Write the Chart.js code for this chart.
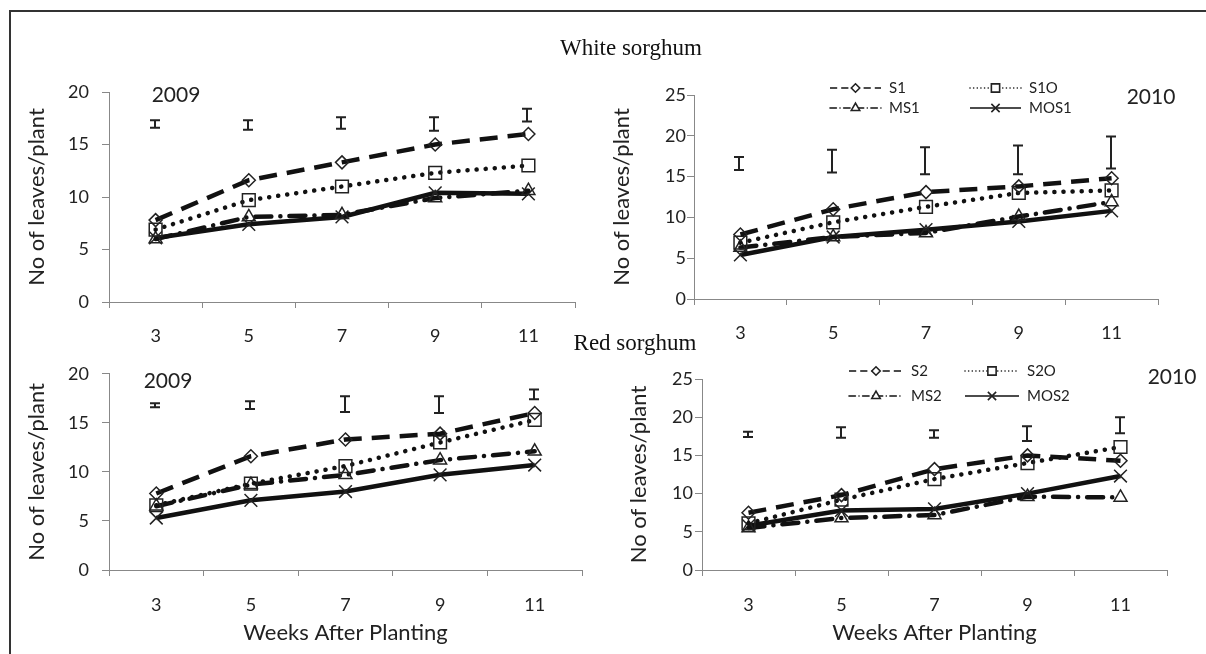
<!DOCTYPE html>
<html>
<head>
<meta charset="utf-8">
<script src="https://cdn.jsdelivr.net/npm/chart.js@4.4.1/dist/chart.umd.min.js"></script>
<style>
body { margin:0; background:#fff; }
#wrap { position:relative; width:1206px; height:654px; overflow:hidden; background:#fff; }
#frame { position:absolute; left:9px; top:10px; right:-5px; bottom:-5px; border-top:2px solid #333; border-left:2px solid #333; }
.box { position:absolute; }
.lbl { position:absolute; transform:translate(-50%,-50%); white-space:nowrap; color:#111; }
.head { font-family:"Liberation Serif", serif; font-size:23px; }
.year { font-family:Lato, sans-serif; font-size:21px; color:#222; }
</style>
</head>
<body>
<div id="wrap">
	<div id="frame"></div>
	<div class="box" style="left:10px;top:60px;"><canvas id="c_w09" width="590" height="290"></canvas></div>
	<div class="box" style="left:600px;top:60px;"><canvas id="c_w10" width="600" height="290"></canvas></div>
	<div class="box" style="left:10px;top:350px;"><canvas id="c_r09" width="590" height="304"></canvas></div>
	<div class="box" style="left:600px;top:350px;"><canvas id="c_r10" width="606" height="304"></canvas></div>
	<div class="lbl head" style="left:631px;top:48px;">White sorghum</div>
	<div class="lbl head" style="left:635px;top:343px;">Red sorghum</div>
	<div class="lbl year" style="left:176px;top:93px;">2009</div>
	<div class="lbl year" style="left:1151px;top:95px;">2010</div>
	<div class="lbl year" style="left:168px;top:379px;">2009</div>
	<div class="lbl year" style="left:1172px;top:375px;">2010</div>
</div>
<script>
var weeks = ["3", "5", "7", "9", "11"];
var whiteKeys = ["S1", "S1O", "MS1", "MOS1"];
var redKeys = ["S2", "S2O", "MS2", "MOS2"];

// white sorghum 2009
var w09S = [7.8, 11.6, 13.3, 15.0, 16.0];
var w09SO = [6.9, 9.7, 11.0, 12.3, 13.0];
var w09MS = [6.0, 8.1, 8.3, 9.9, 10.6];
var w09MOS = [6.1, 7.4, 8.1, 10.4, 10.3];
var w09Lo = [16.6, 16.4, 16.5, 16.3, 17.2];
var w09Hi = [17.3, 17.3, 17.6, 17.6, 18.4];

// white sorghum 2010
var w10S = [7.9, 11.0, 13.1, 13.8, 14.8];
var w10SO = [6.9, 9.4, 11.3, 13.0, 13.3];
var w10MS = [6.3, 7.6, 8.1, 10.1, 11.9];
var w10MOS = [5.4, 7.6, 8.5, 9.5, 10.8];
var w10Lo = [15.8, 15.5, 15.3, 15.3, 16.0];
var w10Hi = [17.4, 18.3, 18.6, 18.8, 19.9];

// red sorghum 2009
var r09S = [7.8, 11.6, 13.3, 13.9, 16.0];
var r09SO = [6.6, 8.8, 10.6, 13.0, 15.3];
var r09MS = [6.5, 8.7, 9.7, 11.2, 12.1];
var r09MOS = [5.3, 7.1, 8.0, 9.7, 10.7];
var r09Lo = [16.6, 16.4, 16.1, 16.0, 17.4];
var r09Hi = [17.0, 17.2, 17.7, 17.7, 18.4];

// red sorghum 2010
var r10S = [7.5, 9.8, 13.2, 15.0, 14.3];
var r10SO = [6.1, 9.2, 11.9, 14.0, 16.1];
var r10MS = [5.5, 6.8, 7.2, 9.6, 9.5];
var r10MOS = [5.8, 7.8, 8.0, 10.0, 12.3];
var r10Lo = [17.4, 17.3, 17.3, 16.9, 17.9];
var r10Hi = [18.1, 18.7, 18.3, 18.8, 20.0];

Chart.defaults.font.family = "Lato";
Chart.defaults.color = "#222";

// line + marker look for S, SO, MS, MOS
var looks = [
	{pointStyle:"rectRot", dash:[18, 10], cap:"butt", r:6.5},
	{pointStyle:"rect", dash:[0.1, 9], cap:"round", r:9},
	{pointStyle:"triangle", dash:[16, 9, 0.1, 9], cap:"round", r:7.5},
	{pointStyle:"crossRot", dash:[], cap:"butt", r:9}
];

var errBars = {
	id: "errBars",
	afterDatasetsDraw: function(chart, args, opts) {
		if (!opts.lo) return;
		var ctx = chart.ctx, xs = chart.scales.x, ys = chart.scales.y;
		ctx.save();
		ctx.strokeStyle = "#222";
		ctx.lineWidth = 2;
		for (var i = 0; i < opts.lo.length; i++) {
			var x = Math.round(xs.getPixelForValue(i)) - 1;
			var y1 = ys.getPixelForValue(opts.lo[i]);
			var y2 = ys.getPixelForValue(opts.hi[i]);
			ctx.beginPath();
			ctx.moveTo(x, y1); ctx.lineTo(x, y2);
			ctx.moveTo(x - 5, y1); ctx.lineTo(x + 5, y1);
			ctx.moveTo(x - 5, y2); ctx.lineTo(x + 5, y2);
			ctx.stroke();
		}
		ctx.restore();
	}
};

// small two-column key, drawn from the datasets themselves
var lineKey = {
	id: "lineKey",
	afterDraw: function(chart, args, opts) {
		if (!opts.x) return;
		var ctx = chart.ctx;
		ctx.save();
		chart.data.datasets.forEach(function(ds, i) {
			var col = i % 2, row = Math.floor(i / 2);
			var x0 = opts.x[col], x1 = x0 + opts.w, y = opts.y[row];
			var look = looks[i];
			ctx.strokeStyle = "#111";
			ctx.lineWidth = 1.6;
			ctx.lineCap = look.cap;
			ctx.setLineDash(look.dash.map(function(d) { return d * 0.4; }));
			ctx.beginPath();
			ctx.moveTo(x0, y); ctx.lineTo(x1, y);
			ctx.stroke();
			ctx.setLineDash([]);
			ctx.fillStyle = "#fff";
			ctx.strokeStyle = "#222";
			Chart.helpers.drawPoint(ctx, {pointStyle: look.pointStyle, radius: look.r * 0.65, borderWidth: 1.3, rotation: 0}, (x0 + x1) / 2, y);
			ctx.fillStyle = "#222";
			ctx.font = "15px Lato";
			ctx.textBaseline = "middle";
			ctx.fillText(ds.label, x1 + 8, y);
		});
		ctx.restore();
	}
};

function makeChart(id, keys, series, lo, hi, p) {
	var datasets = [];
	for (var i = 0; i < series.length; i++) {
		var look = looks[i];
		datasets.push({
			label: keys[i],
			data: series[i],
			borderColor: "#111",
			borderWidth: 4.5,
			borderDash: look.dash,
			borderCapStyle: look.cap,
			pointStyle: look.pointStyle,
			pointRadius: look.r,
			pointBorderColor: "#222",
			pointBorderWidth: 1.5,
			pointBackgroundColor: "rgba(255,255,255,0)",
			tension: 0
		});
	}
	return new Chart(document.getElementById(id), {
		type: "line",
		data: {labels: weeks, datasets: datasets},
		plugins: [errBars, lineKey],
		options: {
			responsive: false,
			animation: false,
			events: [],
			layout: {padding: {left: 0, bottom: 0, top: p.top, right: p.right}},
			plugins: {
				legend: {display: false},
				tooltip: {enabled: false},
				errBars: {lo: lo, hi: hi},
				lineKey: p.key || {}
			},
			scales: {
				x: {
					offset: true,
					grid: {offset: true, drawOnChartArea: false, tickLength: 6, color: "#888"},
					border: {color: "#888", width: 1},
					ticks: {padding: p.xPad, font: {size: 18}, color: "#222"},
					title: {display: !!p.xTitle, text: "Weeks After Planting", font: {size: 22}, color: "#222", padding: {top: 0, bottom: 8}},
					afterFit: function(s) { s.height = p.xH; }
				},
				y: {
					min: 0,
					max: p.yMax,
					ticks: {stepSize: 5, padding: p.yPad, font: {size: 18}, color: "#222"},
					grid: {drawOnChartArea: false, tickLength: 7, color: "#888"},
					border: {color: "#888", width: 1},
					title: {display: true, text: "No of leaves/plant", font: {size: 22}, color: "#222", padding: {top: p.tPad, bottom: 0}},
					afterFit: function(s) { s.width = p.yW; }
				}
			}
		}
	});
}

makeChart("c_w09", whiteKeys, [w09S, w09SO, w09MS, w09MOS], w09Lo, w09Hi,
	{top: 32, right: 25, yW: 99, xH: 48, yMax: 20, yPad: 13, xPad: 17, tPad: 14});
makeChart("c_w10", whiteKeys, [w10S, w10SO, w10MS, w10MOS], w10Lo, w10Hi,
	{top: 35, right: 42, yW: 94, xH: 51, yMax: 25, yPad: 1, xPad: 17, tPad: 9,
	 key: {x: [230, 370], w: 51, y: [28, 48]}});
makeChart("c_r09", redKeys, [r09S, r09SO, r09MS, r09MOS], r09Lo, r09Hi,
	{top: 23, right: 18, yW: 99, xH: 84, yMax: 20, yPad: 13, xPad: 18, tPad: 14, xTitle: true});
makeChart("c_r10", redKeys, [r10S, r10SO, r10MS, r10MOS], r10Lo, r10Hi,
	{top: 29, right: 39, yW: 102, xH: 84, yMax: 25, yPad: 2, xPad: 18, tPad: 26, xTitle: true,
	 key: {x: [249, 365], w: 54, y: [21, 46]}});
</script>
</body>
</html>
